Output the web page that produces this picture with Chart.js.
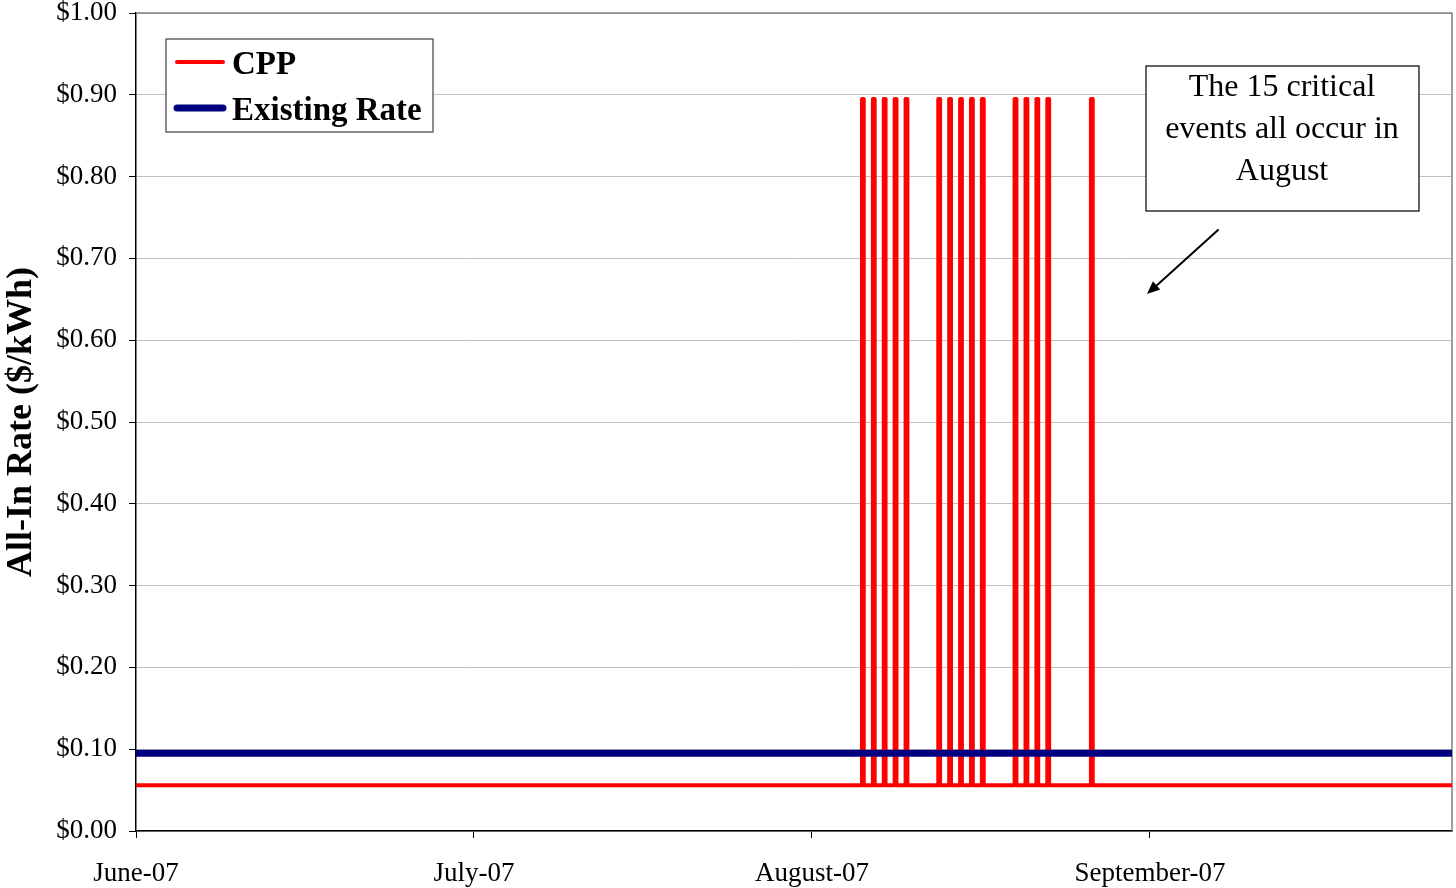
<!DOCTYPE html>
<html>
<head>
<meta charset="utf-8">
<script src="https://cdn.jsdelivr.net/npm/chart.js@4.4.0/dist/chart.umd.min.js"></script>
<style>
  html, body { margin: 0; padding: 0; background: #fff; }
  #wrap { width: 1456px; height: 888px; }
</style>
</head>
<body>
<div id="wrap"><canvas id="rateChart"></canvas></div>
<script>
// Axis ticks (days since June 1, 2007)
const tickDays = [0, 31, 62, 93];
const tickLabels = ['June-07', 'July-07', 'August-07', 'September-07'];
const lastDay = 120.7;

// Rates ($/kWh)
const cppBaseRate = 0.056;
const cppPeakRate = 0.895;
const existingRate = 0.095;

// Critical peak events: August dates, event hours
const augustStartDay = 61;
const eventDates = [6, 7, 8, 9, 10, 13, 14, 15, 16, 17, 20, 21, 22, 23, 27];
const eventStartHour = 14;
const eventEndHour = 18;

// Build CPP step series
const cppPoints = [{ x: 0, y: cppBaseRate }];
eventDates.forEach(d => {
    const day = augustStartDay + d - 1;
    const s = day + eventStartHour / 24;
    const e = day + eventEndHour / 24;
    cppPoints.push({ x: s, y: cppBaseRate }, { x: s, y: cppPeakRate },
                   { x: e, y: cppPeakRate }, { x: e, y: cppBaseRate });
});
cppPoints.push({ x: lastDay, y: cppBaseRate });

const existingPoints = [{ x: 0, y: existingRate }, { x: lastDay, y: existingRate }];

const serif = "'Liberation Serif', 'Times New Roman', serif";

// Gray frame on top / right of the plot
const framePlugin = {
    id: 'frame',
    beforeDatasetsDraw(chart) {
        const { ctx, chartArea: a } = chart;
        ctx.save();
        ctx.strokeStyle = '#808080';
        ctx.lineWidth = 1.5;
        ctx.beginPath();
        ctx.moveTo(a.left, a.top);
        ctx.lineTo(a.right, a.top);
        ctx.lineTo(a.right, a.bottom);
        ctx.stroke();
        ctx.restore();
    }
};

// Legend box + annotation with arrow
const overlayPlugin = {
    id: 'overlay',
    afterDraw(chart) {
        const ctx = chart.ctx;
        ctx.save();

        // legend
        ctx.fillStyle = '#fff';
        ctx.fillRect(166, 39, 267, 93);
        ctx.strokeStyle = '#404040';
        ctx.lineWidth = 1.2;
        ctx.strokeRect(166, 39, 267, 93);
        const entries = [chart.data.datasets[1], chart.data.datasets[0]];
        entries.forEach((ds, i) => {
            const y = 62 + i * 46;
            ctx.strokeStyle = ds.borderColor;
            ctx.lineWidth = ds.borderWidth;
            ctx.lineCap = 'round';
            ctx.beginPath();
            ctx.moveTo(177, y);
            ctx.lineTo(223, y);
            ctx.stroke();
            ctx.fillStyle = '#000';
            ctx.font = 'bold 33px ' + serif;
            ctx.textBaseline = 'middle';
            ctx.textAlign = 'left';
            ctx.fillText(ds.label, 232, y + 3);
        });

        // annotation
        ctx.fillStyle = '#fff';
        ctx.fillRect(1146, 66, 273, 145);
        ctx.strokeStyle = '#000';
        ctx.lineWidth = 1.2;
        ctx.strokeRect(1146, 66, 273, 145);
        ctx.fillStyle = '#000';
        ctx.font = '32px ' + serif;
        ctx.textAlign = 'center';
        ctx.textBaseline = 'middle';
        ['The 15 critical', 'events all occur in', 'August'].forEach((t, i) => {
            ctx.fillText(t, 1282, 88 + i * 42);
        });

        // arrow
        const x1 = 1218, y1 = 230, x2 = 1147, y2 = 294;
        ctx.lineWidth = 2;
        ctx.beginPath();
        ctx.moveTo(x1, y1);
        ctx.lineTo(x2 + 8, y2 - 7);
        ctx.stroke();
        const ang = Math.atan2(y2 - y1, x2 - x1);
        ctx.beginPath();
        ctx.moveTo(x2, y2);
        ctx.lineTo(x2 - 14 * Math.cos(ang - 0.4), y2 - 14 * Math.sin(ang - 0.4));
        ctx.lineTo(x2 - 14 * Math.cos(ang + 0.4), y2 - 14 * Math.sin(ang + 0.4));
        ctx.closePath();
        ctx.fill();

        ctx.restore();
    }
};

new Chart(document.getElementById('rateChart'), {
    type: 'line',
    data: {
        datasets: [
            {
                label: 'Existing Rate',
                data: existingPoints,
                borderColor: '#000080',
                borderWidth: 7,
                pointRadius: 0,
                order: 0
            },
            {
                label: 'CPP',
                data: cppPoints,
                borderColor: '#ff0000',
                borderWidth: 4,
                borderJoinStyle: 'round',
                borderCapStyle: 'round',
                pointRadius: 0,
                tension: 0,
                order: 1
            }
        ]
    },
    options: {
        responsive: true,
        maintainAspectRatio: false,
        animation: false,
        layout: { padding: { top: 13, right: 4, left: 0, bottom: 0 } },
        plugins: {
            legend: { display: false },
            tooltip: { enabled: false }
        },
        scales: {
            x: {
                type: 'linear',
                min: 0,
                max: lastDay,
                afterBuildTicks: s => { s.ticks = tickDays.map(v => ({ value: v })); },
                afterFit: s => { s.height = 57; },
                ticks: {
                    padding: 20,
                    maxRotation: 0,
                    color: '#000',
                    font: { family: serif, size: 27 },
                    callback: v => tickLabels[tickDays.indexOf(v)]
                },
                grid: { drawOnChartArea: false, tickColor: '#000', tickLength: 7 },
                border: { color: '#000', width: 1.5 }
            },
            y: {
                min: 0,
                max: 1,
                afterFit: s => {
                    s.width = 136;
                    s.paddingTop = 0;
                    s.paddingBottom = 0;
                },
                ticks: {
                    stepSize: 0.1,
                    padding: 12,
                    color: '#000',
                    font: { family: serif, size: 27 },
                    callback: v => '$' + v.toFixed(2)
                },
                grid: { color: '#c0c0c0', tickColor: '#000', tickLength: 7 },
                border: { color: '#000', width: 1.5 },
                title: {
                    display: true,
                    text: 'All-In Rate ($/kWh)',
                    color: '#000',
                    font: { family: serif, size: 36, weight: 'bold' },
                    padding: { top: 0, bottom: 0 }
                }
            }
        }
    },
    plugins: [framePlugin, overlayPlugin]
});
</script>
</body>
</html>
